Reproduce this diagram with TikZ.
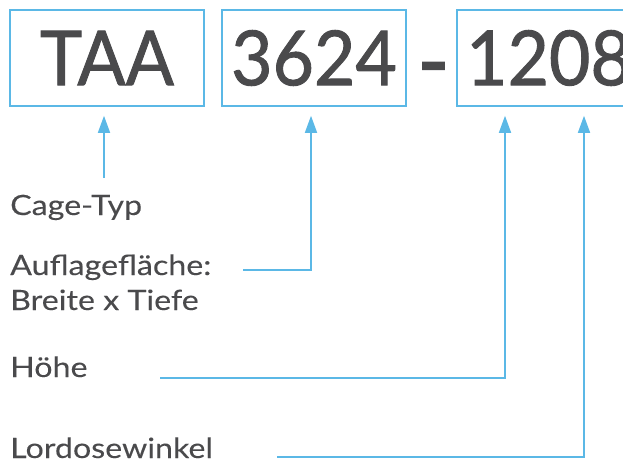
\documentclass[tikz,border=0pt]{standalone}
\usepackage{fontspec}
\setmainfont{Lato}
\newfontface\bigface{Lato}[FakeBold=1.2]
\newfontface\lblface{Lato}[FakeBold=0.1]
\usetikzlibrary{arrows.meta,calc}
\definecolor{lineblue}{HTML}{5BB8E6}
\definecolor{txtgray}{HTML}{4A4A4C}
\newcommand{\bigtxt}[1]{\raisebox{-2.5pt}{\scalebox{0.94}[1]{#1}}}
\newcommand{\lbltxt}[1]{\scalebox{1.15}[1]{#1}}
\tikzset{
  codebox/.style={draw=lineblue,line width=1.6pt,minimum height=96pt,inner sep=0pt,
    text=txtgray,font=\bigface\fontsize{76}{80}\selectfont},
  lbl/.style={anchor=base west,inner sep=0pt,text=txtgray,font=\lblface\fontsize{28}{35}\selectfont},
  conn/.style={draw=lineblue,line width=1.6pt,-{Triangle[length=17pt,width=12pt]},shorten >=9pt},
}
\begin{document}
\begin{tikzpicture}[x=1pt,y=-1pt]
\useasboundingbox (0,0) rectangle (623,464);
\node[codebox,minimum width=194pt] (b1) at (107,58) {\bigtxt{TAA}};
\node[codebox,minimum width=184pt] (b2) at (314,58) {\bigtxt{3624}};
\node[text=txtgray,font=\bigface\fontsize{76}{80}\selectfont,inner sep=0pt,anchor=base] (dash) at (433.5,95.5) {\scalebox{1.15}[1.3]{-}};
\node[codebox,minimum width=184pt] (b3) at (549,58) {\bigtxt{1208}};
\node[lbl] (cage) at (10,215) {\lbltxt{Cage-Typ}};
\node[lbl] (auf) at (10,275) {\lbltxt{Auflagefläche:}};
\node[lbl] (auf2) at (10,310) {\lbltxt{Breite x Tiefe}};
\node[lbl] (hoehe) at (10,377) {\lbltxt{Höhe}};
\node[lbl] (lord) at (10,458) {\lbltxt{Lordosewinkel}};
\coordinate (c1) at (104,178);
\coordinate (c2) at (243,270);
\coordinate (c3) at (160,378);
\coordinate (c4) at (277,457);
\draw[conn] (c1) -- (c1 |- b1.south);
\draw[conn] (c2) -| ([xshift=-3pt]b2.south);
\draw[conn] (c3) -| ([xshift=-44pt]b3.south);
\draw[conn] (c4) -| ([xshift=35pt]b3.south);
\end{tikzpicture}
\end{document}
